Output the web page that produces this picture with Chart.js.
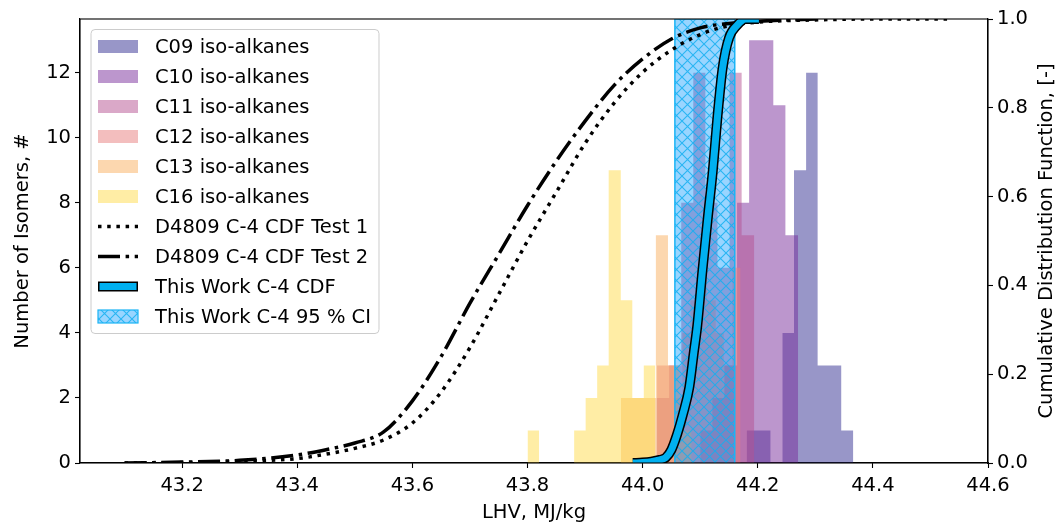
<!DOCTYPE html>
<html>
<head>
<meta charset="utf-8">
<script src="https://cdn.jsdelivr.net/npm/chart.js@4.4.1/dist/chart.umd.min.js"></script>
<style>
  html, body { margin: 0; padding: 0; background: #fff; }
</style>
</head>
<body>
<canvas id="lhvChart" width="1063" height="523"></canvas>
<script>
// axis ticks
const xTickValues = [43.2, 43.4, 43.6, 43.8, 44.0, 44.2, 44.4, 44.6];
const xTickLabels = ['43.2', '43.4', '43.6', '43.8', '44.0', '44.2', '44.4', '44.6'];
const yTickValues = [0, 2, 4, 6, 8, 10, 12];
const cdfTickValues = [0, 0.2, 0.4, 0.6, 0.8, 1.0];
const cdfTickLabels = ['0.0', '0.2', '0.4', '0.6', '0.8', '1.0'];

// histogram bins (edges in MJ/kg) and isomer counts
const c09Edges = [44.161, 44.181, 44.202, 44.222, 44.243, 44.263, 44.284, 44.304, 44.325, 44.345, 44.366];
const c09Counts = [0, 1, 1, 0, 4, 9, 12, 3, 3, 1];
const c10Edges = [44.100, 44.121, 44.142, 44.164, 44.185, 44.206, 44.227, 44.248, 44.270];
const c10Counts = [1, 2, 3, 8, 13, 13, 11, 7];
const c11Edges = [44.024, 44.046, 44.067, 44.088, 44.109, 44.130, 44.151, 44.172, 44.194];
const c11Counts = [2, 3, 8, 12, 8, 6, 12, 7];
const c12Edges = [44.025, 44.040, 44.054, 44.069, 44.083, 44.098, 44.112, 44.127, 44.141, 44.156, 44.170];
const c12Counts = [3, 3, 2, 4, 5, 6, 5, 4, 3, 6];
const c13Edges = [43.962, 43.982, 44.003, 44.023, 44.044, 44.064, 44.085];
const c13Counts = [2, 2, 2, 7, 3, 1];
const c16Edges = [43.800, 43.820, 43.840, 43.861, 43.881, 43.901, 43.921, 43.941, 43.962, 43.982, 44.002, 44.022];
const c16Counts = [1, 0, 0, 0, 1, 2, 3, 9, 5, 2, 3];

// cumulative distribution curves
const test1X = [43.10, 43.20, 43.30, 43.40, 43.45, 43.50, 43.55, 43.60, 43.65, 43.70, 43.75, 43.80, 43.85, 43.90, 43.95, 44.00, 44.05, 44.10, 44.15, 44.20, 44.30, 44.40, 44.53];
const test1Y = [0.000, 0.001, 0.004, 0.010, 0.020, 0.033, 0.052, 0.09, 0.16, 0.26, 0.38, 0.50, 0.61, 0.72, 0.81, 0.88, 0.93, 0.965, 0.985, 0.993, 0.998, 1.0, 1.0];
const test2X = [43.10, 43.20, 43.30, 43.40, 43.45, 43.50, 43.55, 43.60, 43.65, 43.70, 43.75, 43.80, 43.85, 43.90, 43.95, 44.00, 44.05, 44.10, 44.15, 44.20, 44.30];
const test2Y = [0.000, 0.002, 0.006, 0.018, 0.030, 0.045, 0.070, 0.14, 0.24, 0.36, 0.47, 0.58, 0.68, 0.77, 0.85, 0.91, 0.955, 0.98, 0.99, 0.995, 1.0];
const workX = [43.983, 44.000, 44.015, 44.030, 44.040, 44.050, 44.060, 44.070, 44.081, 44.089, 44.095, 44.104, 44.113, 44.122, 44.130, 44.139, 44.150, 44.165, 44.179, 44.202];
const workY = [0.000, 0.001, 0.003, 0.007, 0.012, 0.030, 0.065, 0.110, 0.17, 0.25, 0.31, 0.435, 0.55, 0.66, 0.78, 0.89, 0.957, 0.987, 1.0, 1.0];
const ciBounds = [44.056, 44.160];

const FONT = 'DejaVu Sans';
const fontSpec = { family: FONT, size: 19.5 };

function histPoints(edges, counts) {
  const pts = counts.map((c, i) => ({ x: edges[i], y: c }));
  pts.push({ x: edges[edges.length - 1], y: 0 });
  return pts;
}

function curvePoints(xs, ys) {
  return xs.map((x, i) => ({ x, y: ys[i] }));
}

function makeHatch() {
  const c = document.createElement('canvas');
  c.width = 11;
  c.height = 11;
  const g = c.getContext('2d');
  g.fillStyle = 'rgba(0,150,255,0.4)';
  g.fillRect(0, 0, 11, 11);
  g.strokeStyle = 'rgba(20,175,240,0.85)';
  g.lineWidth = 1.1;
  g.beginPath();
  g.moveTo(-1, -1); g.lineTo(12, 12);
  g.moveTo(12, -1); g.lineTo(-1, 12);
  g.stroke();
  return g.createPattern(c, 'repeat');
}

const hatch = makeHatch();

const histSeries = [
  { label: 'C09 iso-alkanes', edges: c09Edges, counts: c09Counts, color: 'rgba(49,45,145,0.5)' },
  { label: 'C10 iso-alkanes', edges: c10Edges, counts: c10Counts, color: 'rgba(121,45,155,0.5)' },
  { label: 'C11 iso-alkanes', edges: c11Edges, counts: c11Counts, color: 'rgba(181,81,145,0.5)' },
  { label: 'C12 iso-alkanes', edges: c12Edges, counts: c12Counts, color: 'rgba(231,125,125,0.5)' },
  { label: 'C13 iso-alkanes', edges: c13Edges, counts: c13Counts, color: 'rgba(249,175,95,0.5)' },
  { label: 'C16 iso-alkanes', edges: c16Edges, counts: c16Counts, color: 'rgba(255,219,75,0.5)' },
];

const datasets = histSeries.map((s, i) => ({
  label: s.label,
  data: histPoints(s.edges, s.counts),
  yAxisID: 'y',
  stepped: true,
  fill: 'origin',
  backgroundColor: s.color,
  borderColor: 'rgba(0,0,0,0)',
  borderWidth: 0,
  pointRadius: 0,
  clip: 0,
  order: 20 - i,
}));

datasets.push({
  label: 'This Work C-4 95 % CI',
  data: [
    { x: ciBounds[0], y: 0 }, { x: ciBounds[0], y: 1 },
    { x: ciBounds[1], y: 1 }, { x: ciBounds[1], y: 0 },
  ],
  yAxisID: 'y1',
  fill: 'origin',
  backgroundColor: hatch,
  borderColor: '#1ab4f5',
  borderWidth: 1.5,
  pointRadius: 0,
  clip: 0,
  order: 8,
});

datasets.push({
  label: 'D4809 C-4 CDF Test 1',
  data: curvePoints(test1X, test1Y),
  yAxisID: 'y1',
  borderColor: '#000',
  borderWidth: 3.5,
  borderDash: [3.5, 5.7],
  cubicInterpolationMode: 'monotone',
  pointRadius: 0,
  fill: false,
  clip: 0,
  order: 5,
});

datasets.push({
  label: 'D4809 C-4 CDF Test 2',
  data: curvePoints(test2X, test2Y),
  yAxisID: 'y1',
  borderColor: '#000',
  borderWidth: 3.5,
  borderDash: [22, 5.6, 3.5, 5.6],
  cubicInterpolationMode: 'monotone',
  pointRadius: 0,
  fill: false,
  clip: 0,
  order: 4,
});

// black outline under the cyan line
datasets.push({
  label: '_outline',
  data: curvePoints(workX, workY),
  yAxisID: 'y1',
  borderColor: '#000',
  borderWidth: 10,
  cubicInterpolationMode: 'monotone',
  pointRadius: 0,
  fill: false,
  clip: 0,
  order: 2,
});

datasets.push({
  label: 'This Work C-4 CDF',
  data: curvePoints(workX, workY),
  yAxisID: 'y1',
  borderColor: '#00b0f0',
  borderWidth: 7,
  cubicInterpolationMode: 'monotone',
  pointRadius: 0,
  fill: false,
  clip: 0,
  order: 1,
});

const legendItems = [
  ...histSeries.map(s => ({ kind: 'box', label: s.label, color: s.color })),
  { kind: 'dot', label: 'D4809 C-4 CDF Test 1' },
  { kind: 'dashdot', label: 'D4809 C-4 CDF Test 2' },
  { kind: 'work', label: 'This Work C-4 CDF' },
  { kind: 'ci', label: 'This Work C-4 95 % CI' },
];

function roundRect(ctx, x, y, w, h, r) {
  ctx.beginPath();
  ctx.moveTo(x + r, y);
  ctx.lineTo(x + w - r, y);
  ctx.quadraticCurveTo(x + w, y, x + w, y + r);
  ctx.lineTo(x + w, y + h - r);
  ctx.quadraticCurveTo(x + w, y + h, x + w - r, y + h);
  ctx.lineTo(x + r, y + h);
  ctx.quadraticCurveTo(x, y + h, x, y + h - r);
  ctx.lineTo(x, y + r);
  ctx.quadraticCurveTo(x, y, x + r, y);
  ctx.closePath();
}

const decorPlugin = {
  id: 'decor',
  afterDraw(chart) {
    const { ctx, chartArea: a } = chart;
    ctx.save();

    // frame
    ctx.strokeStyle = '#000';
    ctx.lineWidth = 1.1;
    ctx.strokeRect(a.left, a.top, a.right - a.left, a.bottom - a.top);

    // right axis title, reading upward
    ctx.fillStyle = '#000';
    ctx.font = `19.5px "${FONT}"`;
    ctx.textAlign = 'center';
    ctx.textBaseline = 'middle';
    ctx.translate(1047, (a.top + a.bottom) / 2);
    ctx.rotate(-Math.PI / 2);
    ctx.fillText('Cumulative Distribution Function, [-]', 0, 0);
    ctx.restore();

    // legend inside the plot
    ctx.save();
    ctx.font = `19.5px "${FONT}"`;
    const textX = 155;
    const maxW = Math.max(...legendItems.map(it => ctx.measureText(it.label).width));
    const boxX = 91, boxY = 29.5;
    const rowH = 30;
    const firstY = 46.5;
    const boxW = textX + maxW + 8 - boxX;
    const boxH = firstY - boxY + rowH * (legendItems.length - 1) + 17;
    roundRect(ctx, boxX, boxY, boxW, boxH, 4);
    ctx.fillStyle = 'rgba(255,255,255,0.8)';
    ctx.fill();
    ctx.strokeStyle = '#cccccc';
    ctx.lineWidth = 1;
    ctx.stroke();

    legendItems.forEach((it, i) => {
      const cy = firstY + i * rowH;
      const hx = 98, hw = 40;
      if (it.kind === 'box') {
        ctx.fillStyle = it.color;
        ctx.fillRect(hx, cy - 6.5, hw, 13);
      } else if (it.kind === 'dot' || it.kind === 'dashdot') {
        ctx.strokeStyle = '#000';
        ctx.lineWidth = 3.5;
        ctx.setLineDash(it.kind === 'dot' ? [3.5, 5.7] : [22, 5.6, 3.5, 5.6]);
        ctx.beginPath();
        ctx.moveTo(hx, cy);
        ctx.lineTo(hx + hw, cy);
        ctx.stroke();
        ctx.setLineDash([]);
      } else if (it.kind === 'work') {
        ctx.fillStyle = '#000';
        ctx.fillRect(hx, cy - 5, hw, 10);
        ctx.fillStyle = '#00b0f0';
        ctx.fillRect(hx + 1.5, cy - 3.5, hw - 3, 7);
      } else {
        ctx.fillStyle = hatch;
        ctx.fillRect(hx, cy - 6.5, hw, 13);
        ctx.strokeStyle = '#1ab4f5';
        ctx.lineWidth = 1.2;
        ctx.strokeRect(hx, cy - 6.5, hw, 13);
      }
      ctx.fillStyle = '#000';
      ctx.textAlign = 'left';
      ctx.textBaseline = 'middle';
      ctx.fillText(it.label, textX, cy + 1);
    });
    ctx.restore();
  },
};

const tickGrid = { drawOnChartArea: false, drawTicks: true, tickLength: 5, tickWidth: 1.1, color: '#000' };

new Chart(document.getElementById('lhvChart').getContext('2d'), {
  type: 'line',
  data: { datasets },
  options: {
    responsive: false,
    animation: false,
    events: [],
    layout: { padding: { top: 19, left: 0, right: 0, bottom: 0 } },
    plugins: {
      legend: { display: false },
      tooltip: { enabled: false },
    },
    scales: {
      x: {
        type: 'linear',
        min: 43.0225,
        max: 44.6,
        afterBuildTicks: (scale) => { scale.ticks = xTickValues.map(v => ({ value: v })); },
        afterFit: (scale) => { scale.height = 60; },
        ticks: {
          font: fontSpec,
          color: '#000',
          padding: 6,
          maxRotation: 0,
          autoSkip: false,
          callback: (v, i) => xTickLabels[i],
        },
        grid: tickGrid,
        border: { color: '#000', width: 1.1 },
        title: { display: true, text: 'LHV, MJ/kg', font: fontSpec, color: '#000', padding: { top: 0, bottom: -2 } },
      },
      y: {
        position: 'left',
        min: 0,
        max: 13.65,
        afterBuildTicks: (scale) => { scale.ticks = yTickValues.map(v => ({ value: v })); },
        afterFit: (scale) => { scale.width = 80; },
        ticks: { font: fontSpec, color: '#000', padding: 4, callback: (v) => String(v) },
        grid: tickGrid,
        border: { color: '#000', width: 1.1 },
        title: { display: true, text: 'Number of Isomers, #', font: fontSpec, color: '#000', padding: { top: 11, bottom: 0 } },
      },
      y1: {
        position: 'right',
        min: 0,
        max: 1,
        afterBuildTicks: (scale) => { scale.ticks = cdfTickValues.map(v => ({ value: v })); },
        afterFit: (scale) => { scale.width = 75; },
        ticks: { font: fontSpec, color: '#000', padding: 4, callback: (v, i) => cdfTickLabels[i] },
        grid: tickGrid,
        border: { color: '#000', width: 1.1 },
      },
    },
  },
  plugins: [decorPlugin],
});
</script>
</body>
</html>
